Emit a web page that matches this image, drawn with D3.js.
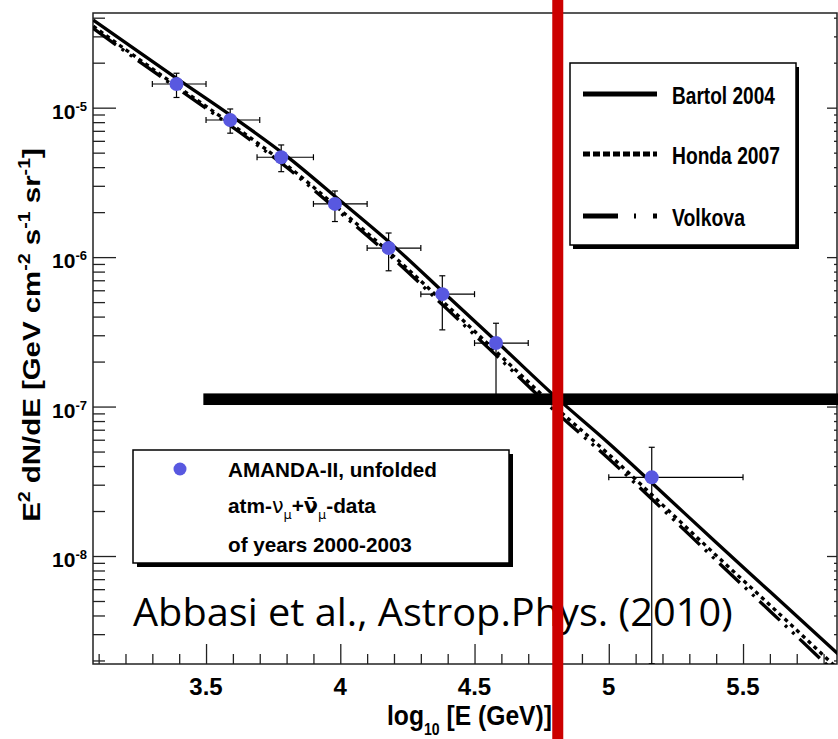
<!DOCTYPE html>
<html>
<head>
<meta charset="utf-8">
<script src="https://cdn.jsdelivr.net/npm/d3@7"></script>
<style>
  html, body { margin: 0; padding: 0; background: #fff; }
  svg { display: block; }
  text { font-family: "Liberation Sans", Arial, Helvetica, sans-serif; font-weight: bold; fill: #000; }
</style>
</head>
<body>
<script>
// Model curves: E^2 dN/dE of atmospheric muon neutrinos vs log10(E/GeV)
const modelLogE = [3.08, 3.2, 3.4, 3.6, 3.8, 4.0, 4.2, 4.4, 4.6, 4.8, 5.0, 5.2, 5.4, 5.6, 5.86];
const bartol  = [3.85e-5, 2.72e-5, 1.53e-5, 8.67e-6, 4.74e-6, 2.38e-6, 1.18e-6, 5.47e-7, 2.54e-7, 1.17e-7, 5.69e-8, 2.65e-8, 1.23e-8, 5.78e-9, 2.16e-9];
const honda   = [3.51e-5, 2.45e-5, 1.36e-5, 7.64e-6, 4.13e-6, 2.07e-6, 1.01e-6, 4.71e-7, 2.16e-7, 9.95e-8, 4.79e-8, 2.20e-8, 1.01e-8, 4.70e-9, 1.71e-9];
const volkova = [3.39e-5, 2.37e-5, 1.32e-5, 7.38e-6, 3.99e-6, 1.98e-6, 9.68e-7, 4.45e-7, 2.04e-7, 9.29e-8, 4.47e-8, 2.06e-8, 9.35e-9, 4.29e-9, 1.55e-9];

// Unfolded AMANDA-II data points with bin edges and flux uncertainties
const dataLogE = [3.39, 3.59, 3.78, 3.98, 4.18, 4.38, 4.58, 5.16];
const dataFlux = [1.44e-5, 8.27e-6, 4.66e-6, 2.27e-6, 1.15e-6, 5.65e-7, 2.66e-7, 3.36e-8];
const binLow   = [3.30, 3.50, 3.69, 3.90, 4.10, 4.30, 4.50, 5.00];
const binHigh  = [3.50, 3.70, 3.90, 4.10, 4.30, 4.50, 4.70, 5.50];
const fluxUp   = [1.70e-5, 9.8e-6, 5.63e-6, 2.77e-6, 1.45e-6, 7.5e-7, 3.61e-7, 5.34e-8];
const fluxDown = [1.17e-5, 6.75e-6, 3.73e-6, 1.73e-6, 8.1e-7, 3.26e-7, 1.2e-7, 1.9e-9];

// Axis ticks
const xMajor = [3.5, 4, 4.5, 5, 5.5];
const xMinor = [3.1, 3.2, 3.3, 3.4, 3.6, 3.7, 3.8, 3.9, 4.1, 4.2, 4.3, 4.4, 4.6, 4.7, 4.8, 4.9, 5.1, 5.2, 5.3, 5.4, 5.6, 5.7, 5.8];
const xLabels = ["3.5", "4", "4.5", "5", "5.5"];
const yMajor = [1e-5, 1e-6, 1e-7, 1e-8];
const yExponents = ["-5", "-6", "-7", "-8"];
const yMinor = [2e-9, 3e-9, 4e-9, 5e-9, 6e-9, 7e-9, 8e-9, 9e-9,
                2e-8, 3e-8, 4e-8, 5e-8, 6e-8, 7e-8, 8e-8, 9e-8,
                2e-7, 3e-7, 4e-7, 5e-7, 6e-7, 7e-7, 8e-7, 9e-7,
                2e-6, 3e-6, 4e-6, 5e-6, 6e-6, 7e-6, 8e-6, 9e-6,
                2e-5, 3e-5, 4e-5];

// Highlighted threshold: energy cut and flux level
const cutLogE = 4.81;
const cutFlux = 1.12e-7;
const cutStartLogE = 3.49;

const legendModels = ["Bartol 2004", "Honda 2007", "Volkova"];

const W = 838, H = 739;
const frame = { left: 93, right: 837, top: 13, bottom: 664 };

const svg = d3.select("body").append("svg").attr("width", W).attr("height", H);

const x = d3.scaleLinear().domain([3.079, 5.850]).range([frame.left, frame.right]);
const y = d3.scaleLog().domain([1.894e-9, 4.30e-5]).range([frame.bottom, frame.top]);

// Horizontally scale a text so that its drawn width equals target
function fitWidth(sel, target) {
  const w = sel.node().getComputedTextLength();
  const t = sel.attr("transform") || "";
  sel.attr("transform", t + ` scale(${target / w},1)`);
}

svg.append("defs").append("clipPath").attr("id", "plotClip")
  .append("rect").attr("x", frame.left).attr("y", frame.top)
  .attr("width", frame.right - frame.left).attr("height", frame.bottom - frame.top);

// Axes: ticks via d3 axes
const axisStyle = g => {
  g.selectAll("path.domain").remove();
  g.selectAll("line").attr("stroke", "#222").attr("stroke-width", 1.3);
  g.selectAll("text").remove();
};
svg.append("g").attr("transform", `translate(0,${frame.bottom})`)
  .call(d3.axisTop(x).tickValues(xMajor).tickSize(20).tickSizeOuter(0)).call(axisStyle);
svg.append("g").attr("transform", `translate(0,${frame.bottom})`)
  .call(d3.axisTop(x).tickValues(xMinor).tickSize(10).tickSizeOuter(0)).call(axisStyle);
svg.append("g").attr("transform", `translate(${frame.left},0)`)
  .call(d3.axisRight(y).tickValues(yMajor).tickSize(23).tickSizeOuter(0)).call(axisStyle);
svg.append("g").attr("transform", `translate(${frame.left},0)`)
  .call(d3.axisRight(y).tickValues(yMinor).tickSize(12).tickSizeOuter(0)).call(axisStyle);
svg.append("g").attr("transform", `translate(${frame.right},0)`)
  .call(d3.axisLeft(y).tickValues(yMajor).tickSize(10).tickSizeOuter(0)).call(axisStyle);
svg.append("g").attr("transform", `translate(${frame.right},0)`)
  .call(d3.axisLeft(y).tickValues(yMinor).tickSize(3).tickSizeOuter(0)).call(axisStyle);

// Frame
svg.append("rect").attr("x", frame.left).attr("y", frame.top)
  .attr("width", frame.right - frame.left).attr("height", frame.bottom - frame.top)
  .attr("fill", "none").attr("stroke", "#222").attr("stroke-width", 1.5);

// Tick labels
svg.append("g").selectAll("text").data(xMajor).join("text")
  .attr("x", d => x(d)).attr("y", 695).attr("text-anchor", "middle")
  .attr("font-size", 24).text((d, i) => xLabels[i]);

yMajor.forEach((v, i) => {
  const t = svg.append("text").attr("x", 87).attr("y", y(v) + 11).attr("text-anchor", "end");
  t.append("tspan").attr("font-size", 21).text("10");
  t.append("tspan").attr("font-size", 13).attr("dy", -8).text(yExponents[i]);
});

// Axis titles
const xt = svg.append("text").attr("transform", "translate(387,725)").attr("font-size", 28);
xt.append("tspan").text("log");
xt.append("tspan").attr("font-size", 16).attr("dy", 10).text("10");
xt.append("tspan").attr("dy", -10).text(" [E (GeV)]");
fitWidth(xt, 165);

const yt = svg.append("text").attr("transform", "translate(40,335) rotate(-90)")
  .attr("text-anchor", "middle").attr("font-size", 24);
[["E", 0], ["2", 1], [" dN/dE [GeV cm", 0], ["-2", 1], [" s", 0], ["-1", 1], [" sr", 0], ["-1", 1], ["]", 0]]
  .forEach(([s, sup], i, arr) => {
    const prevSup = i > 0 && arr[i - 1][1];
    const dy = sup ? -10 : (prevSup ? 10 : 0);
    yt.append("tspan").attr("font-size", sup ? 16 : 24).attr("dy", dy).text(s);
  });
fitWidth(yt, 374);

// Model curves
const plot = svg.append("g").attr("clip-path", "url(#plotClip)");
const line = d3.line().x(d => x(d[0])).y(d => y(d[1])).curve(d3.curveMonotoneX);
const models = [
  { values: volkova, dash: "28 7 3 7 3 7" },
  { values: honda, dash: "4 4" },
  { values: bartol, dash: null }
];
models.forEach(m => {
  plot.append("path").datum(modelLogE.map((e, i) => [e, m.values[i]]))
    .attr("d", line).attr("fill", "none").attr("stroke", "#000")
    .attr("stroke-width", 3.3).attr("stroke-dasharray", m.dash);
});

// Data points with error bars
const pts = dataLogE.map((e, i) => ({ e, f: dataFlux[i], lo: binLow[i], hi: binHigh[i], up: fluxUp[i], dn: fluxDown[i] }));
const eb = plot.append("g").attr("stroke", "#000").attr("stroke-width", 1.2);
pts.forEach(p => {
  const cx = x(p.e), cy = y(p.f);
  eb.append("line").attr("x1", x(p.lo)).attr("x2", x(p.hi)).attr("y1", cy).attr("y2", cy);
  eb.append("line").attr("x1", cx).attr("x2", cx).attr("y1", y(p.up)).attr("y2", y(p.dn));
  [p.lo, p.hi].forEach(v => eb.append("line").attr("x1", x(v)).attr("x2", x(v)).attr("y1", cy - 3).attr("y2", cy + 3));
  [p.up, p.dn].forEach(v => eb.append("line").attr("x1", cx - 3).attr("x2", cx + 3).attr("y1", y(v)).attr("y2", y(v)));
});
plot.append("g").selectAll("circle").data(pts).join("circle")
  .attr("cx", d => x(d.e)).attr("cy", d => y(d.f)).attr("r", 7).attr("fill", "#5858e0");

// Model legend
const lg = svg.append("g");
lg.append("rect").attr("x", 573).attr("y", 67).attr("width", 226).attr("height", 182).attr("fill", "#000");
lg.append("rect").attr("x", 570).attr("y", 63).attr("width", 226).attr("height", 182)
  .attr("fill", "#fff").attr("stroke", "#000").attr("stroke-width", 1.5);
const sampleDash = [null, "7 3", "35 16 2 17 4 100"];
const rowY = [94, 154, 216];
const textW = [103, 108, 73];
legendModels.forEach((name, i) => {
  lg.append("line").attr("x1", 583).attr("x2", 657).attr("y1", rowY[i]).attr("y2", rowY[i])
    .attr("stroke", "#000").attr("stroke-width", 5).attr("stroke-dasharray", sampleDash[i]);
  const t = lg.append("text").attr("transform", `translate(672,${rowY[i] + 10})`)
    .attr("font-size", 23).text(name);
  fitWidth(t, textW[i]);
});

// Data legend
const dl = svg.append("g");
dl.append("rect").attr("x", 137).attr("y", 454).attr("width", 376).attr("height", 113).attr("fill", "#000");
dl.append("rect").attr("x", 133).attr("y", 450).attr("width", 376).attr("height", 113)
  .attr("fill", "#fff").attr("stroke", "#000").attr("stroke-width", 1.5);
dl.append("circle").attr("cx", 180).attr("cy", 469).attr("r", 6.5).attr("fill", "#5858e0");
const l1 = dl.append("text").attr("transform", "translate(228,477)").attr("font-size", 21).text("AMANDA-II, unfolded");
fitWidth(l1, 209);
const l2 = dl.append("text").attr("transform", "translate(228,513)").attr("font-size", 21);
const greek = s => s.style("font-family", "'DejaVu Sans', sans-serif").style("font-weight", "normal");
l2.append("tspan").text("atm-");
l2.append("tspan").call(greek).text("ν");
l2.append("tspan").call(greek).attr("font-size", 13).attr("dy", 6).text("μ");
l2.append("tspan").attr("dy", -6).text("+");
l2.append("tspan").style("font-family", "'DejaVu Sans', sans-serif").text("ν\u0304");
l2.append("tspan").call(greek).attr("font-size", 13).attr("dy", 6).text("μ");
l2.append("tspan").attr("dy", -6).text("-data");
fitWidth(l2, 148);
const l3 = dl.append("text").attr("transform", "translate(228,552)").attr("font-size", 21).text("of years 2000-2003");
fitWidth(l3, 184);

// Reference note
const ref = svg.append("text").attr("transform", "translate(133,626)")
  .style("font-family", "'Open Sans', sans-serif").style("font-weight", "normal")
  .attr("font-size", 39).text("Abbasi et al., Astrop.Phys. (2010)");
fitWidth(ref, 600);

// Threshold markers
svg.append("rect").attr("x", x(cutStartLogE)).attr("y", y(cutFlux) - 5.8)
  .attr("width", W - x(cutStartLogE)).attr("height", 11.6).attr("fill", "#000");
svg.append("rect").attr("x", x(cutLogE) - 5.5).attr("y", 0)
  .attr("width", 11).attr("height", H).attr("fill", "#cc0000");
</script>
</body>
</html>
